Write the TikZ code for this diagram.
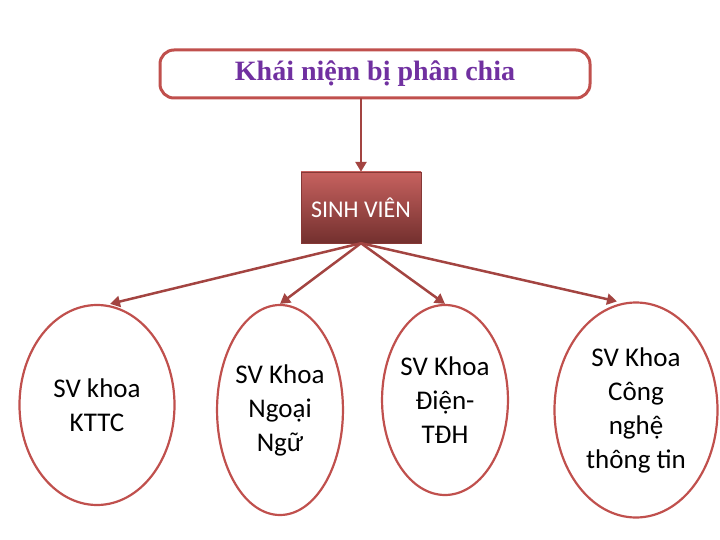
\documentclass[tikz,border=0pt]{standalone}
\usepackage{fontspec}
\setmainfont{Carlito}
\newfontfamily\titlefont{Liberation Serif}
\usetikzlibrary{arrows.meta,shapes.geometric}
\definecolor{edge}{HTML}{C0504D}
\definecolor{ttl}{HTML}{7030A0}
\begin{document}
\begin{tikzpicture}[x=1pt,y=-1pt,
  conn/.style={draw=edge!85!black,line width=2.5pt,-{Triangle[length=10pt,width=11pt]}},
  oval/.style={ellipse,draw=edge,line width=2.2pt,fill=white,align=center,inner sep=0pt,font=\fontsize{27}{34}\selectfont}]
\useasboundingbox (0,0) rectangle (720,540);
\node[draw=edge,line width=3pt,rounded corners=14pt,minimum width=430pt,minimum height=48pt,font=\titlefont\bfseries\fontsize{28}{30}\selectfont,text=ttl] (top) at (375,74) {Khái niệm bị phân chia};
\node[minimum width=120pt,minimum height=71pt,top color=edge!90!white,bottom color=edge!60!black,draw=edge!70!black,text=white,font=\fontsize{24}{26}\selectfont] (sv) at (361,207.5) {SINH VIÊN};
\node[oval,minimum width=155pt,minimum height=200pt] (a) at (97,405) {SV khoa\\KTTC};
\node[oval,minimum width=120pt,minimum height=210pt] (b) at (280,410) {SV Khoa\\Ngoại\\Ngữ};
\node[oval,minimum width=120pt,minimum height=190pt] (c) at (445,400) {SV Khoa\\Điện-\\TĐH};
\node[oval,minimum width=163pt,minimum height=215pt] (d) at (636,410) {SV Khoa\\Công\\nghệ\\thông tin};
\draw[conn] (361,98) -- (sv.north);
\draw[conn] (sv.south) -- (a.north -| 110,0);
\draw[conn] (sv.south) -- (b.north);
\draw[conn] (sv.south) -- (c.north);
\draw[conn] (sv.south) -- (d.north -| 617,0);
\end{tikzpicture}
\end{document}
